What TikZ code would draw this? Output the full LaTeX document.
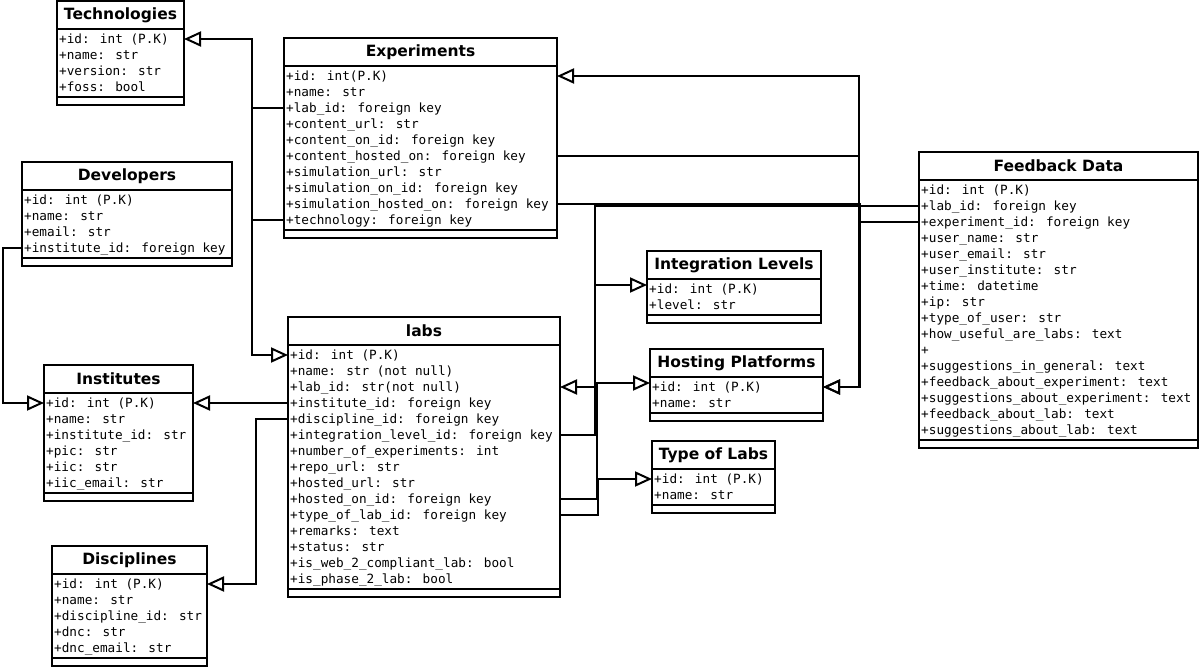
\documentclass[tikz,border=0pt]{standalone}
\usepackage{fontspec}
\setmainfont{DejaVu Sans}
\newfontfamily\monofam{DejaVu Sans Mono}
\usetikzlibrary{arrows.meta,calc}

\tikzset{
  erframe/.style={draw, line width=2pt, inner sep=0pt, outer sep=0pt, fill=white},
  ertitle/.style={font=\bfseries\fontsize{15.5}{18}\selectfont, inner sep=0pt},
  erattr/.style={font=\monofam\fontsize{12.7}{16}\selectfont, inner sep=0pt,
                 anchor=west, text height=10.5pt, text depth=1.5pt},
  erline/.style={line width=2pt},
  fk/.style={line width=2pt,
             -{Triangle[open, length=17pt, width=15pt, line width=2pt]}},
}

% \erbox{name}{left}{top}{width}{rows}{title}{attributes}
\newcommand\erbox[7]{%
  \pgfmathsetmacro\erheight{16*#5+40}%
  \node[erframe, minimum width=#4pt, minimum height=\erheight pt,
        anchor=north west] (#1) at (#2,#3) {};
  \draw[erline] ([yshift=-28pt]#1.north west) -- ([yshift=-28pt]#1.north east);
  \draw[erline] ([yshift=8pt]#1.south west) -- ([yshift=8pt]#1.south east);
  \node[ertitle] (#1-t) at ([yshift=-14pt]#1.north) {#6};
  \foreach \a [count=\i] in {#7} {
    \pgfmathsetmacro\rowy{38+16*(\i-1)}
    \node[erattr] (#1-\i) at ([xshift=2pt,yshift=-\rowy pt]#1.north west) {\a};
  }%
}

\begin{document}
\begin{tikzpicture}[x=1pt, y=-1pt]
\useasboundingbox (0,0) rectangle (1201,668);

% tables
\erbox{tech}{57}{1}{127}{4}{Technologies}{+id: int (P.K), +name: str, +version: str, +foss: bool}
\erbox{dev}{22}{162}{210}{4}{Developers}{+id: int (P.K), +name: str, +email: str, +institute\_id: foreign key}
\erbox{exp}{284}{38}{273}{10}{Experiments}{+id: int(P.K), +name: str, +lab\_id: foreign key, +content\_url: str, +content\_on\_id: foreign key, +content\_hosted\_on: foreign key, +simulation\_url: str, +simulation\_on\_id: foreign key, +simulation\_hosted\_on: foreign key, +technology: foreign key}
\erbox{fb}{919}{152}{279}{16}{Feedback Data}{+id: int (P.K), +lab\_id: foreign key, +experiment\_id: foreign key, +user\_name: str, +user\_email: str, +user\_institute: str, +time: datetime, +ip: str, +type\_of\_user: str, +how\_useful\_are\_labs: text, +, +suggestions\_in\_general: text, +feedback\_about\_experiment: text, +suggestions\_about\_experiment: text, +feedback\_about\_lab: text, +suggestions\_about\_lab: text}
\erbox{inst}{44}{365}{149}{6}{Institutes}{+id: int (P.K), +name: str, +institute\_id: str, +pic: str, +iic: str, +iic\_email: str}
\erbox{disc}{52}{546}{155}{5}{Disciplines}{+id: int (P.K), +name: str, +discipline\_id: str, +dnc: str, +dnc\_email: str}
\erbox{labs}{288}{317}{272}{15}{labs}{+id: int (P.K), +name: str (not null), +lab\_id: str(not null), +institute\_id: foreign key, +discipline\_id: foreign key, +integration\_level\_id: foreign key, +number\_of\_experiments: int, +repo\_url: str, +hosted\_url: str, +hosted\_on\_id: foreign key, +type\_of\_lab\_id: foreign key, +remarks: text, +status: str, +is\_web\_2\_compliant\_lab: bool, +is\_phase\_2\_lab: bool}
\erbox{il}{647}{251}{174}{2}{Integration Levels}{+id: int (P.K), +level: str}
\erbox{hp}{650}{349}{173}{2}{Hosting Platforms}{+id: int (P.K), +name: str}
\erbox{tl}{652}{441}{123}{2}{Type of Labs}{+id: int (P.K), +name: str}

% foreign keys
\draw[fk] (exp.west |- exp-10) -- ++(-32,0) |- (tech.east |- tech-1);
\draw[fk] (exp.west |- exp-3) -- ++(-32,0) |- (labs.west |- labs-1);
\draw[fk] (fb.west |- fb-3) -- ++(-60,0) |- (exp.east |- exp-1);
\draw[fk] (exp.east |- exp-6) -- ++(302,0) |- (hp.east |- hp-1);
\draw[fk] (exp.east |- exp-9) -- ++(303,0) |- (hp.east |- hp-1);
\draw[fk] (fb.west |- fb-2) -- ++(-324,0) |- (labs.east |- labs-3);
\draw[fk] (labs.east |- labs-6) -- ++(35,0) |- ($(il.west |- il-1)+(0,-4)$);
\draw[fk] (labs.east |- labs-10) -- ++(37,0) |- ($(hp.west |- hp-1)+(0,-4)$);
\draw[fk] (labs.east |- labs-11) -- ++(38,0) |- (tl.west |- tl-1);
\draw[fk] (dev.west |- dev-4) -- ++(-19,0) |- (inst.west |- inst-1);
\draw[fk] (labs.west |- labs-4) -- ++(-40,0) |- (inst.east |- inst-1);
\draw[fk] (labs.west |- labs-5) -- ++(-32,0) |- (disc.east |- disc-1);
\end{tikzpicture}
\end{document}
